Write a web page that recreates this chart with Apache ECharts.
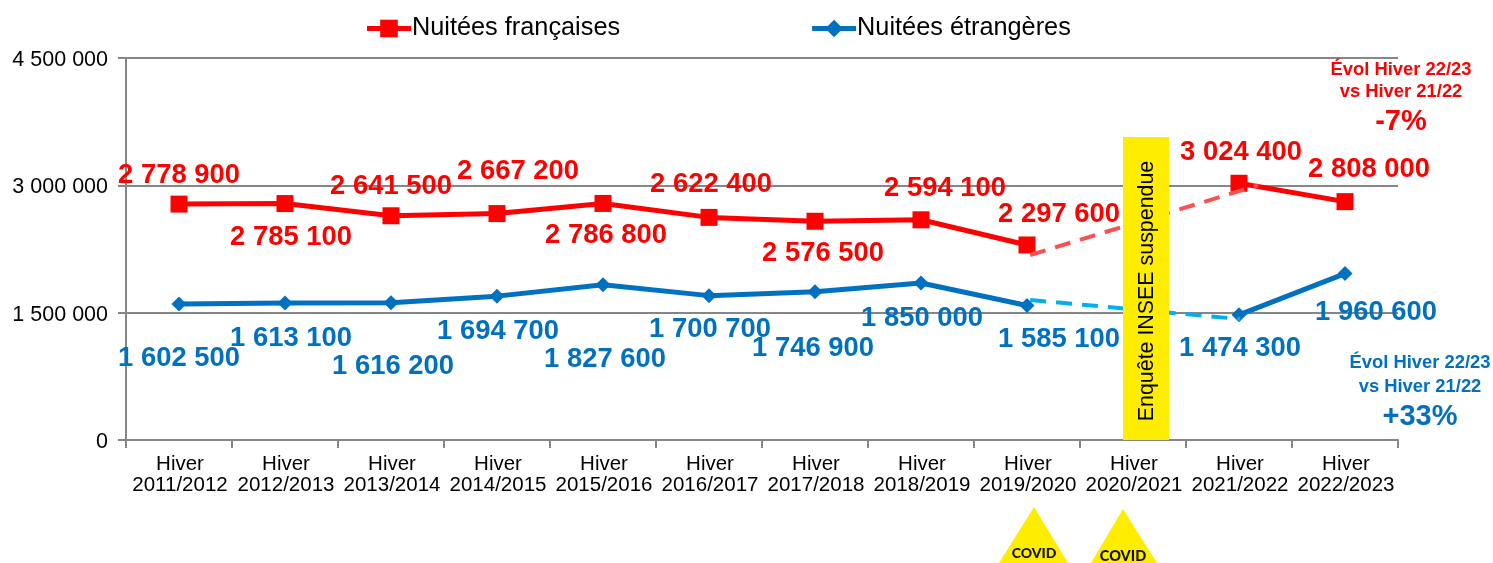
<!DOCTYPE html>
<html><head><meta charset="utf-8">
<style>html,body{margin:0;padding:0;background:#fff}#c{width:1493px;height:563px}</style>
<script src="https://cdn.jsdelivr.net/npm/echarts@6/dist/echarts.min.js"></script>
</head><body><div id="c"></div>
<script>
const categories = ['Hiver\n2011/2012','Hiver\n2012/2013','Hiver\n2013/2014','Hiver\n2014/2015','Hiver\n2015/2016','Hiver\n2016/2017','Hiver\n2017/2018','Hiver\n2018/2019','Hiver\n2019/2020','Hiver\n2020/2021','Hiver\n2021/2022','Hiver\n2022/2023'];
const francaises = [2778900,2785100,2641500,2667200,2786800,2622400,2576500,2594100,2297600,null,3024400,2808000];
const etrangeres = [1602500,1613100,1616200,1694700,1827600,1700700,1746900,1850000,1585100,null,1474300,1960600];
const yTicks = [0,1500000,3000000,4500000];
const trendFr = [[8.53,2179000],[10.68,3000000]];
const trendEt = [[8.53,1650000],[10.51,1425000]];
const offsetsFr = [[0,-29],[6,34],[0,-29],[21,-42],[3,32],[2,-33],[8,32],[24,-31],[32,-31],[0,0],[2,-31],[24,-32]];
const offsetsEt = [[0,54],[6,35],[2,64],[1,35],[2,75],[1,34],[-2,57],[1,35],[32,34],[0,0],[1,34],[31,39]];

const FONT = '"Liberation Sans", Arial, sans-serif';
const RED = '#ff0000', BLUE = '#0070c0';
const fmt = v => String(v).replace(/\B(?=(\d{3})+$)/g,' ');
const points = (vals, offs, color) => vals.map((v,i)=> v==null ? null : ({
  value:v,
  label:{show:true,position:'inside',offset:offs[i],formatter:()=>fmt(v),color,fontFamily:FONT,fontWeight:'bold',fontSize:27.4}
}));
const tri = (x0,x1,apex,top,bot) => ({type:'polygon',z:5,shape:{points:[[apex,top],[x1,bot],[x0,bot]]},style:{fill:'#ffed00'}});
const note = (x,y,text,color,size) => ({type:'text',z:6,x,y,style:{text,fill:color,font:`bold ${size}px ${FONT}`,textAlign:'center',textVerticalAlign:'middle'}});

const chart = echarts.init(document.getElementById('c'),null,{renderer:'canvas'});
chart.setOption({
  animation:false,
  backgroundColor:'#fff',
  legend:{
    data:['Nuitées françaises','Nuitées étrangères'],
    left:359.5, top:11, itemWidth:44, itemHeight:22, itemGap:189.5,
    lineStyle:{width:5},
    textStyle:{fontFamily:FONT,fontSize:25.3,color:'#000',padding:[0,0,0,-4]}
  },
  grid:{left:126,right:95,top:58,bottom:123,containLabel:false},
  xAxis:[{
    type:'category',data:categories,boundaryGap:true,
    axisLine:{lineStyle:{color:'#868686',width:2}},
    axisTick:{show:true,alignWithLabel:false,length:8,lineStyle:{color:'#868686',width:2}},
    axisLabel:{interval:0,color:'#000',fontFamily:FONT,fontSize:20.5,lineHeight:21,margin:14,padding:[0,0,0,2]},
    splitLine:{show:false}
  },{type:'value',min:0,max:12,show:false}],
  yAxis:{
    type:'value',min:yTicks[0],max:yTicks[3],interval:yTicks[1],
    axisLine:{show:true,lineStyle:{color:'#868686',width:2}},
    axisTick:{show:true,length:8,lineStyle:{color:'#868686',width:2}},
    axisLabel:{color:'#000',fontFamily:FONT,fontSize:21.5,margin:18,verticalAlign:'top',lineHeight:4,formatter:fmt},
    splitLine:{show:true,lineStyle:{color:'#868686',width:2}}
  },
  series:[
    {name:'Nuitées françaises',type:'line',data:points(francaises,offsetsFr,RED),symbol:'rect',symbolSize:17,z:2,
      itemStyle:{color:RED},lineStyle:{color:RED,width:5}},
    {name:'Nuitées étrangères',type:'line',data:points(etrangeres,offsetsEt,BLUE),symbol:'diamond',symbolSize:15,z:2,
      itemStyle:{color:BLUE},lineStyle:{color:BLUE,width:5}},
    {name:'Tendance françaises',type:'line',xAxisIndex:1,data:trendFr,symbol:'none',z:3,lineStyle:{color:'#ff5050',width:4,type:[16,10]}},
    {name:'Tendance étrangères',type:'line',xAxisIndex:1,data:trendEt,symbol:'none',z:3,lineStyle:{color:'#00b0f0',width:4,type:[16,10]}}
  ],
  graphic:[
    {type:'rect',z:4,shape:{x:1123,y:137,width:46,height:303},style:{fill:'#ffed00'}},
    {type:'text',z:5,x:1147,y:291,rotation:Math.PI/2,style:{text:'Enquête INSEE suspendue',fill:'#000',font:`21.4px ${FONT}`,textAlign:'center',textVerticalAlign:'middle'}},
    note(1401,70,'Évol Hiver 22/23',RED,18.4),
    note(1401,92,'vs Hiver 21/22',RED,18.4),
    note(1401,122,'-7%',RED,29),
    note(1420,363,'Évol Hiver 22/23',BLUE,18.4),
    note(1420,387,'vs Hiver 21/22',BLUE,18.4),
    note(1420,417,'+33%',BLUE,29),
    tri(999,1068,1034,507,563),
    tri(1091,1157,1123,509,563),
    {type:'text',z:6,x:1034,y:553,style:{text:'COVID',fill:'#111',font:`900 14px Lato, ${FONT}`,textAlign:'center',textVerticalAlign:'middle'}},
    {type:'text',z:6,x:1123,y:556,style:{text:'COVID',fill:'#111',font:`900 14.5px Lato, ${FONT}`,textAlign:'center',textVerticalAlign:'middle'}}
  ]
});
</script></body></html>
